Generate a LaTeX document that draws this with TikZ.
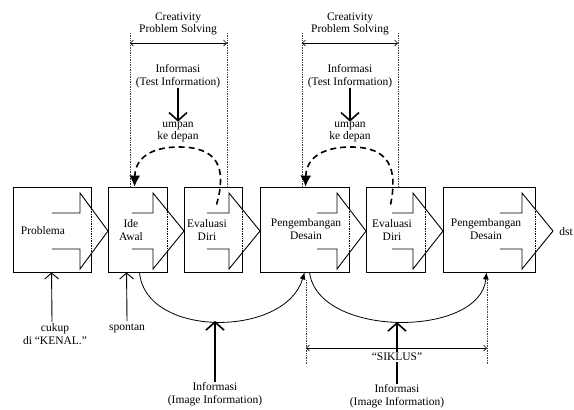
\documentclass[tikz,border=0pt]{standalone}
\usepackage{fontspec}
\setmainfont{Liberation Serif}
\usetikzlibrary{arrows.meta,calc}
\newcommand\fs{\fontsize{11.5}{12.5}\selectfont}
\tikzset{
  bx/.style={draw, line width=0.9pt, inner sep=0pt, minimum height=85pt},
  lbl/.style={font=\fs, align=center, inner sep=0pt},
  dimline/.style={line width=0.6pt, {Straight Barb[length=3pt,width=6pt]}-{Straight Barb[length=3pt,width=6pt]}},
  lead/.style={densely dotted, line width=0.7pt, black!75},
  bigin/.style={line width=1.8pt, -{Straight Barb[length=8pt,width=18pt,line width=1.6pt]}},
  smallin/.style={line width=0.9pt, -{Straight Barb[length=6pt,width=14pt,line width=0.9pt]}},
  feed/.style={line width=1.6pt, dash pattern=on 6pt off 4pt, -{Latex[length=11pt,width=11pt]}},
  cyc/.style={line width=0.8pt, -{Latex[length=7pt,width=6pt]}}
}
% block arrow: #1 shaft start x, #2 head base x, #3 tip x, #4 box right edge x
\newcommand\blockarr[4]{%
  \fill[white] (#1,213) -- (#2,213) -- (#2,193) -- (#3,231) -- (#2,269) -- (#2,249) -- (#1,249) -- cycle;
  \begin{scope}
    \clip (#2,193) -- (#3,231) -- (#2,269) -- cycle;
    \draw[densely dotted, line width=0.7pt] (#4,180) -- (#4,280);
  \end{scope}
  \draw[line width=0.9pt, line join=miter] (#1,213) -- (#2,213) -- (#2,193) -- (#3,231) -- (#2,269) -- (#2,249) -- (#1,249);
}
\begin{document}
\begin{tikzpicture}[x=1pt, y=-1pt]
\useasboundingbox (0,0) rectangle (574,410);
% boxes
\node[bx, minimum width=78pt] (b1) at (52,229.5) {};
\node[bx, minimum width=59pt] (b2) at (137.5,229.5) {};
\node[bx, minimum width=58pt] (b3) at (213,229.5) {};
\node[bx, minimum width=89pt] (b4) at (304.5,229.5) {};
\node[bx, minimum width=59pt] (b5) at (395.5,229.5) {};
\node[bx, minimum width=92pt] (b6) at (489,229.5) {};
% block arrows
\blockarr{52}{80}{108}{91}
\blockarr{132}{153}{184}{167}
\blockarr{207}{229}{260}{242}
\blockarr{317}{337}{366}{349}
\blockarr{392}{413}{443}{425}
\blockarr{500}{522}{553}{535}
% box texts
\node[lbl] (t1) at (43,231) {Problema};
\node[lbl] (t2) at (131,230) {Ide\\Awal};
\node[lbl] (t3) at (207,230) {Evaluasi\\Diri};
\node[lbl] (t4) at (306,229) {Pengembangan\\Desain};
\node[lbl] (t5) at (392,230) {Evaluasi\\Diri};
\node[lbl] (t6) at (486,229) {Pengembangan\\Desain};
\node[lbl, anchor=east] (dst) at (573,232) {dst};
% top: creativity problem solving (1)
\coordinate (l1a) at (130,33);
\coordinate (l1b) at (227,33);
\draw[lead] (l1a) -- (l1a |- b2.north);
\draw[lead] (l1b) -- (l1b |- b3.north);
\draw[dimline] (130,43) -- (227,43);
\node[lbl] (cps1) at (178,24) {Creativity\\Problem Solving};
\node[lbl] (ti1) at (178,76) {Informasi\\(Test Information)};
\node[lbl] (up1) at (178,132) {umpan\\ke depan};
\draw[bigin] (ti1.south) -- (up1.north);
\draw[feed] ($(b3.north west)+(33,18)$) .. controls (227,168) and (218,147) .. (179,147)
  .. controls (146,147) and (135,162) .. ($(b2.north west)+(27,0)$);
% top (2)
\coordinate (l2a) at (302,33);
\coordinate (l2b) at (398,33);
\draw[lead] (l2a) -- (l2a |- b4.north);
\draw[lead] (l2b) -- (l2b |- b5.north);
\draw[dimline] (302,43) -- (398,43);
\node[lbl] (cps2) at (350,24) {Creativity\\Problem Solving};
\node[lbl] (ti2) at (350,76) {Informasi\\(Test Information)};
\node[lbl] (up2) at (350,132) {umpan\\ke depan};
\draw[bigin] (ti2.south) -- (up2.north);
\draw[feed] ($(b5.north west)+(25,18)$) .. controls (398,168) and (389,147) .. (351,147)
  .. controls (317,147) and (306,162) .. ($(b4.north west)+(46,0)$);
% bottom inputs
\node[lbl] (ck) at (55,334) {cukup\\di “KENAL.”};
\coordinate (ckt) at (52,322);
\draw[smallin] (ckt) -- ($(b1.south west)+(39,0)$);
\node[lbl] (sp) at (127,328) {spontan};
\coordinate (spt) at (127,321);
\draw[smallin] (spt) -- ($(b2.south west)+(19,0)$);
% cycle curves
\draw[cyc] ($(b2.south west)+(32,0)$) .. controls (145,338) and (285,338) .. ($(b4.south west)+(45,0)$);
\draw[cyc] ($(b4.south west)+(50,0)$) .. controls (318,338) and (480,338) .. ($(b6.south west)+(44,0)$);
% image information 1
\node[lbl] (ii1) at (215,394) {Informasi\\(Image Information)};
\coordinate (cb1) at (215,321);
\draw[bigin] (ii1.north) -- (cb1);
% siklus
\draw[lead] (306,280) -- (306,364);
\draw[lead] (487,280) -- (487,364);
\draw[dimline] (306,348) -- (487,348);
\coordinate (cb2) at (397,322);
\node[lbl] (ii2) at (397,396) {Informasi\\(Image Information)};
\draw[bigin] (ii2.north) -- (cb2);
\node[lbl, fill=white, inner sep=1.5pt] (sik) at (397,357) {“SIKLUS”};
\end{tikzpicture}
\end{document}
